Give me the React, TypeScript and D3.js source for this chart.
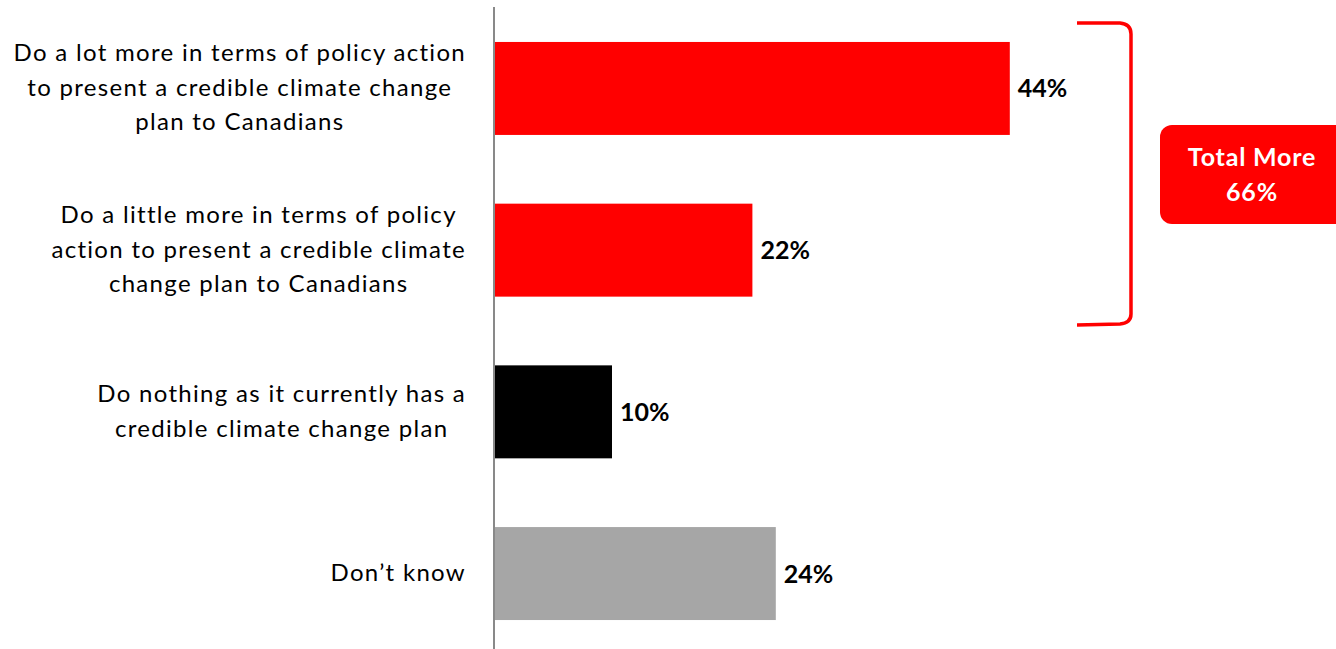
import React, { useEffect, useRef } from "react";
import * as d3 from "d3";

const categories: string[][] = [
  ["Do a lot more in terms of policy action", "to present a credible climate change", "plan to Canadians"],
  ["Do a little more in terms of policy", "action to present a credible climate", "change plan to Canadians"],
  ["Do nothing as it currently has a", "credible climate change plan"],
  ["Don\u2019t know"],
];
const values: number[] = [44, 22, 10, 24];
const colors: string[] = ["#FF0000", "#FF0000", "#000000", "#A6A6A6"];
const totalLabel: string[] = ["Total More", "66%"];

const W = 1336;
const H = 649;
const FONT = "Lato, 'Open Sans', sans-serif";

export default function App() {
  const ref = useRef<SVGSVGElement | null>(null);

  useEffect(() => {
    const svg = d3.select(ref.current);
    svg.selectAll("*").remove();

    const x = d3.scaleLinear().domain([0, 50]).range([495, 495 + 50 * 11.7]);
    const y = d3
      .scaleBand<number>()
      .domain(values.map((_, i) => i))
      .range([7.6, 654.4])
      .paddingInner(0.425)
      .paddingOuter(0.2125);

    svg
      .selectAll("rect.bar")
      .data(values)
      .enter()
      .append("rect")
      .attr("class", "bar")
      .attr("x", x(0))
      .attr("y", (_, i) => y(i)!)
      .attr("width", (d) => x(d) - x(0))
      .attr("height", y.bandwidth())
      .attr("fill", (_, i) => colors[i]);

    svg
      .append("line")
      .attr("x1", 494)
      .attr("x2", 494)
      .attr("y1", 7)
      .attr("y2", H)
      .attr("stroke", "#898989")
      .attr("stroke-width", 2);

    svg
      .selectAll("text.val")
      .data(values)
      .enter()
      .append("text")
      .attr("class", "val")
      .attr("x", (d) => x(d) + 8)
      .attr("y", (_, i) => y(i)! + y.bandwidth() / 2)
      .attr("dy", "0.36em")
      .attr("font-family", FONT)
      .attr("font-weight", "bold")
      .attr("font-size", 25)
      .attr("fill", "#000")
      .text((d) => `${d}%`);

    const lineH = 34.5;
    categories.forEach((lines, i) => {
      const cy = y(i)! + y.bandwidth() / 2 - 1;
      const g = svg.append("g");
      const texts = g
        .selectAll("text")
        .data(lines)
        .enter()
        .append("text")
        .attr("font-family", FONT)
        .attr("font-size", 24)
        .attr("letter-spacing", 1.3)
        .attr("fill", "#000")
        .attr("text-anchor", "middle")
        .attr("y", (_, j) => cy + (j - (lines.length - 1) / 2) * lineH)
        .attr("dy", "0.35em")
        .text((d) => d);
      let maxW = 0;
      texts.each(function () {
        const w = (this as SVGTextElement).getComputedTextLength();
        if (w > maxW) maxW = w;
      });
      texts.attr("x", 466 - maxW / 2);
    });

    svg
      .append("path")
      .attr(
        "d",
        "M1077,23 L1120,23 Q1131,24 1131,34 L1131,314 Q1131,323 1120,324 L1077,325"
      )
      .attr("fill", "none")
      .attr("stroke", "#FF0000")
      .attr("stroke-width", 3.5);

    svg
      .append("rect")
      .attr("x", 1160)
      .attr("y", 125)
      .attr("width", 190)
      .attr("height", 99)
      .attr("rx", 12)
      .attr("fill", "#FF0000");
    svg
      .selectAll("text.tot")
      .data(totalLabel)
      .enter()
      .append("text")
      .attr("class", "tot")
      .attr("x", 1252)
      .attr("y", (_, i) => 166 + i * 35)
      .attr("text-anchor", "middle")
      .attr("font-family", FONT)
      .attr("font-weight", "bold")
      .attr("font-size", 25)
      .attr("letter-spacing", 0.8)
      .attr("fill", "#fff")
      .text((d) => d);
  }, []);

  return (
    <svg
      ref={ref}
      width={W}
      height={H}
      style={{ position: "absolute", left: 0, top: 0, background: "#fff" }}
    />
  );
}
